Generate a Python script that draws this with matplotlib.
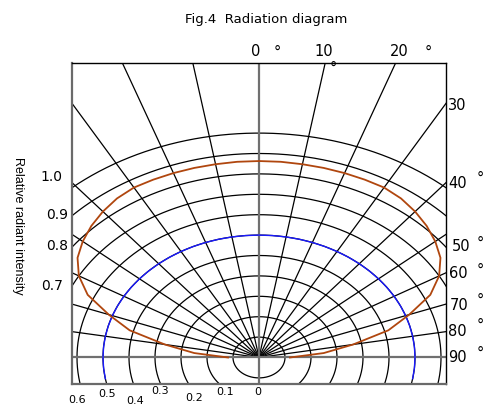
import numpy as np
import matplotlib.pyplot as plt

W, H = 487, 405

# grid: rings (relative radius) and rays (degrees from the optical axis)
ring_r = [0.1, 0.2, 0.3, 0.4, 0.5, 0.6, 0.7, 0.8, 0.9, 1.0, 1.1]
ray_deg = [-90, -80, -70, -60, -50, -40, -30, -20, -10, 0,
           10, 20, 30, 40, 50, 60, 70, 80, 90]

# measured radiation pattern (brown curve)
orange_deg = [-90, -85, -80, -75, -70, -65, -60, -55, -50, -45, -40, -35, -30,
              -25, -20, -15, -10, -5, 0, 5, 10, 15, 20, 25, 30, 35, 40, 45,
              50, 55, 60, 65, 70, 75, 80, 85, 90]
orange_r = [0.119, 0.25, 0.368, 0.515, 0.615, 0.727, 0.80, 0.852, 0.885, 0.912,
            0.934, 0.952, 0.962, 0.962, 0.962, 0.962, 0.962, 0.963, 0.963,
            0.963, 0.962, 0.962, 0.962, 0.962, 0.962, 0.952, 0.934, 0.912,
            0.885, 0.852, 0.80, 0.727, 0.615, 0.515, 0.368, 0.25, 0.119]

# isotropic reference (blue curve)
blue_deg = list(range(-100, 101, 5))
blue_r = [0.6] * len(blue_deg)

top_labels = ["0", "10", "20"]
right_labels = ["30", "40", "50", "60", "70", "80", "90"]
left_labels = ["1.0", "0.9", "0.8", "0.7"]
bottom_labels = ["0.6", "0.5", "0.4", "0.3", "0.2", "0.1", "0"]

fig = plt.figure(figsize=(W / 100, H / 100), dpi=100)
ax = fig.add_axes([72 / W, 1 - 384 / H, 374 / W, 321 / H])
ax.set_xlim(-0.7192, 0.7192)
ax.set_ylim(-0.1299, 1.4436)
ax.set_xticks([])
ax.set_yticks([])

t = np.radians(np.linspace(-180, 180, 1441))
for r in ring_r:
    ax.plot(r * np.sin(t), r * np.cos(t), color='k', lw=0.9)

for a in ray_deg:
    if a in (-90, 0, 90):
        continue
    th = np.radians(a)
    ax.plot([0, 2 * np.sin(th)], [0, 2 * np.cos(th)], color='k', lw=0.9)

ax.plot([0, 0], [-0.3, 2], color='#707070', lw=1.6)
ax.plot([-1, 1], [0, 0], color='#707070', lw=1.6)

th = np.radians(blue_deg)
ax.plot(np.array(blue_r) * np.sin(th), np.array(blue_r) * np.cos(th),
        color='#1a1aff', lw=1.0)
th = np.radians(orange_deg)
ax.plot(np.array(orange_r) * np.sin(th), np.array(orange_r) * np.cos(th),
        color='#b0460e', lw=1.3)

for side in ('top', 'right'):
    ax.spines[side].set_color('k')
    ax.spines[side].set_linewidth(1.0)
for side in ('left', 'bottom'):
    ax.spines[side].set_color('#6a6a6a')
    ax.spines[side].set_linewidth(1.6)


def ftext(x, y, s, **kw):
    fig.text(x / W, 1 - y / H, s, **kw)


ftext(266, 20, "Fig.4  Radiation diagram", ha='center', va='center', fontsize=9.5)

for s, x in zip(top_labels, [256, 324, 399]):
    ftext(x, 56, s, ha='center', va='baseline', fontsize=10.5)
for x, y in [(277, 57), (333, 73), (428, 57)]:
    ftext(x, y, "°", ha='center', va='baseline', fontsize=10.5)

for s, x, y in zip(right_labels, [448, 448, 452, 449, 450, 448, 448],
                   [105, 183, 247, 273, 305, 332, 357]):
    ftext(x, y, s, ha='left', va='center', fontsize=10.5)
for y in [178, 243, 270, 300, 325, 353]:
    ftext(477, y, "°", ha='left', va='center', fontsize=10.5)

for s, x, y in zip(left_labels, [62, 68, 68, 63], [177, 215, 246, 286]):
    ftext(x, y, s, ha='right', va='center', fontsize=10)

for s, x, y in zip(bottom_labels, [77, 107, 135, 160, 194, 225, 258],
                   [400, 394, 401, 391, 398, 392, 392]):
    ftext(x, y, s, ha='center', va='center', fontsize=8)

ftext(18, 226, "Relative radiant intensity", rotation=270, ha='center',
      va='center', fontsize=9,
      family=['Liberation Sans Narrow', 'Liberation Sans'])

fig.savefig('out.png', dpi=100)
